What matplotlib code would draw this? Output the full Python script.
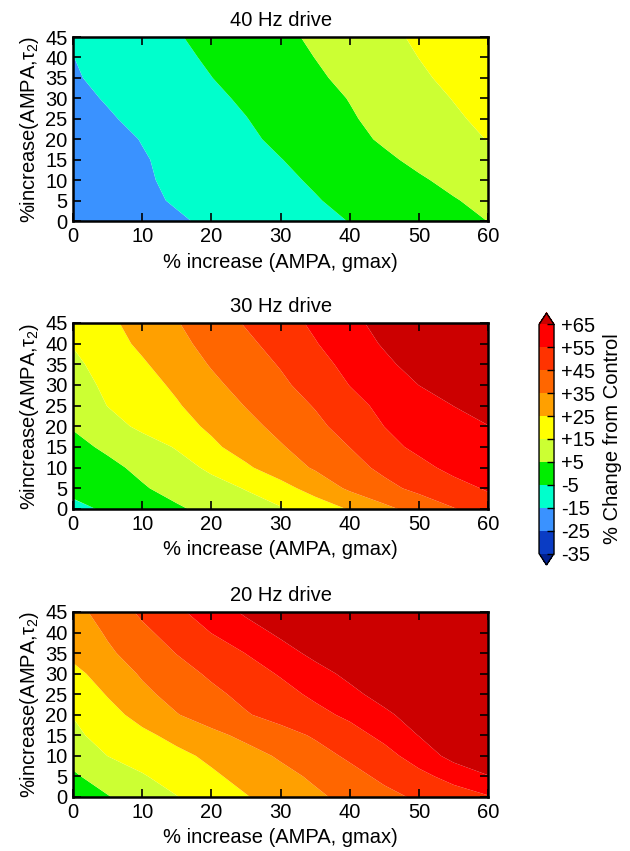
import matplotlib
matplotlib.use("Agg")
import matplotlib.pyplot as plt
import numpy as np
from matplotlib.colors import ListedColormap, BoundaryNorm

plt.rcParams['font.family'] = ['Liberation Sans', 'DejaVu Sans']
plt.rcParams['mathtext.default'] = 'regular'

# grid: % increase of AMPA gmax (x) and AMPA tau2 (y)
gmax_pct = [0, 5, 10, 15, 20, 25, 30, 35, 40, 45, 50, 55, 60]
tau_pct = [0, 5, 10, 15, 20, 25, 30, 35, 40, 45]

# % change from control, rows = tau_pct, cols = gmax_pct
change_40hz = [
    [-22.6, -20.4, -18.2, -15.9, -13.7, -11.5, -9.2, -7.0, -4.8, -2.3, 0.2, 2.6, 5.1],
    [-21.0, -18.8, -16.5, -14.3, -12.1, -9.9, -7.7, -5.5, -3.0, -0.5, 2.0, 4.5, 7.1],
    [-20.6, -18.3, -15.9, -13.6, -11.2, -8.9, -6.5, -4.1, -1.3, 1.4, 4.1, 6.9, 9.6],
    [-20.7, -18.2, -15.6, -13.0, -10.4, -7.8, -5.2, -2.3, 0.7, 3.7, 6.7, 9.6, 12.6],
    [-20.2, -17.4, -14.7, -11.9, -9.1, -6.4, -3.4, -0.3, 2.9, 6.0, 9.1, 12.2, 15.3],
    [-18.5, -15.8, -13.1, -10.5, -7.8, -5.2, -2.0, 1.1, 4.2, 7.4, 10.6, 13.8, 17.0],
    [-17.0, -14.4, -11.8, -9.2, -6.6, -3.8, -0.8, 2.3, 5.3, 8.7, 12.0, 15.3, 18.7],
    [-15.8, -13.0, -10.4, -7.7, -5.1, -2.2, 0.8, 3.8, 6.9, 10.2, 13.7, 17.0, 20.4],
    [-15.1, -12.2, -9.5, -6.7, -3.9, -1.0, 2.1, 5.1, 8.4, 11.7, 15.1, 18.4, 21.7],
    [-14.4, -11.5, -8.5, -5.6, -2.6, 0.3, 3.2, 6.3, 9.7, 13.0, 16.3, 19.7, 23.0],
]
change_30hz = [
    [-6.5, -4.2, -0.2, 3.9, 7.4, 10.8, 14.1, 19.5, 25.7, 32.6, 38.8, 44.5, 50.3],
    [-3.5, 0.3, 4.2, 7.9, 11.6, 15.5, 21.6, 28.8, 36.6, 42.4, 47.4, 51.7, 56.0],
    [-0.4, 3.0, 6.9, 11.5, 16.7, 23.6, 30.0, 36.1, 41.7, 47.2, 52.4, 57.5, 62.5],
    [2.7, 6.4, 10.9, 15.7, 23.2, 29.0, 34.2, 39.6, 45.1, 52.1, 57.1, 60.6, 64.1],
    [5.6, 11.5, 16.9, 21.6, 26.6, 32.2, 37.6, 42.8, 48.8, 55.1, 58.4, 61.7, 64.8],
    [8.1, 15.2, 19.7, 24.2, 29.7, 35.4, 40.5, 45.6, 52.1, 57.2, 61.1, 65.1, 69.0],
    [10.5, 17.1, 21.6, 26.6, 32.9, 38.3, 43.2, 49.0, 55.2, 60.1, 65.1, 70.1, 75.1],
    [13.0, 18.8, 23.9, 29.8, 35.7, 40.6, 45.7, 51.8, 57.6, 63.1, 68.6, 74.1, 79.6],
    [15.5, 21.2, 26.8, 32.6, 37.9, 43.0, 48.6, 54.5, 60.3, 66.0, 71.8, 77.5, 83.3],
    [17.3, 23.0, 28.8, 34.5, 40.2, 45.8, 51.2, 56.7, 62.5, 68.2, 73.9, 79.7, 85.5],
]
change_20hz = [
    [-0.6, 4.5, 9.6, 14.7, 19.6, 24.5, 28.9, 33.3, 37.7, 42.3, 46.5, 50.4, 54.2],
    [3.8, 9.0, 14.2, 18.9, 23.5, 27.9, 32.1, 36.6, 41.8, 47.1, 52.4, 58.2, 64.6],
    [7.8, 15.1, 18.8, 22.7, 26.9, 31.5, 36.2, 41.4, 46.6, 51.8, 59.2, 68.3, 72.0],
    [13.3, 18.1, 22.9, 27.7, 32.6, 37.2, 41.5, 46.1, 51.3, 57.4, 65.3, 70.0, 75.0],
    [15.3, 21.8, 28.2, 34.6, 39.5, 44.3, 48.4, 52.3, 56.9, 63.1, 69.4, 75.6, 81.9],
    [18.5, 25.6, 32.8, 38.3, 42.9, 47.5, 51.9, 56.8, 62.6, 68.5, 74.4, 80.3, 86.2],
    [22.3, 29.4, 36.1, 41.4, 46.5, 51.1, 55.8, 61.6, 67.3, 73.0, 78.8, 84.5, 90.3],
    [27.5, 33.5, 39.4, 45.3, 50.2, 55.2, 61.3, 67.4, 73.5, 79.6, 85.7, 91.8, 97.9],
    [29.2, 36.1, 42.9, 49.1, 55.2, 60.9, 66.8, 72.7, 78.6, 84.5, 90.4, 96.3, 102.0],
    [31.6, 39.3, 46.7, 53.2, 59.8, 66.5, 73.0, 79.7, 86.3, 92.9, 99.5, 106.1, 112.7],
]

titles = ["40 Hz drive", "30 Hz drive", "20 Hz drive"]
levels = [-35, -25, -15, -5, 5, 15, 25, 35, 45, 55, 65]
level_labels = ["-35", "-25", "-15", "-5", "+5", "+15", "+25", "+35", "+45", "+55", "+65"]

band_colors = ['#0a3cc4', '#3a92ff', '#00ffcc', '#00ee00', '#ccff33', '#ffff00',
               '#ffa000', '#ff6600', '#ff3300', '#ff0000']
cmap = ListedColormap(band_colors)
cmap.set_under('#002090')
cmap.set_over('#cc0000')
norm = BoundaryNorm(levels, cmap.N)

fig = plt.figure(figsize=(6.3, 8.51), dpi=100)
boxes = [[0.116, 0.7403, 0.659, 0.2162],
         [0.116, 0.4019, 0.659, 0.2186],
         [0.116, 0.0635, 0.659, 0.2174]]

X, Y = np.meshgrid(gmax_pct, tau_pct)
fs = 14.5
for box, data, title in zip(boxes, [change_40hz, change_30hz, change_20hz], titles):
    ax = fig.add_axes(box)
    cs = ax.contourf(X, Y, np.array(data), levels=levels, cmap=cmap, norm=norm,
                     extend='both', antialiased=True)
    ax.set_xlim(0, 60)
    ax.set_ylim(0, 45)
    ax.set_xticks([0, 10, 20, 30, 40, 50, 60])
    ax.set_yticks([0, 5, 10, 15, 20, 25, 30, 35, 40, 45])
    ax.tick_params(direction='in', top=True, right=True, length=6, width=1.2,
                   labelsize=fs, pad=4)
    for sp in ax.spines.values():
        sp.set_linewidth(1.8)
    ax.set_title(title, fontsize=fs, pad=8)
    ax.set_xlabel("% increase (AMPA, gmax)", fontsize=fs, labelpad=5)
    ax.set_ylabel(r"%increase(AMPA,$\tau_2$)", fontsize=fs, labelpad=3)

cax = fig.add_axes([0.8556, 0.3361, 0.0238, 0.2961])
cb = fig.colorbar(cs, cax=cax, ticks=levels, extend='both')
cb.ax.set_yticklabels(level_labels)
cb.ax.tick_params(direction='in', length=5, width=1, labelsize=fs, pad=5)
cb.outline.set_linewidth(1.0)
cb.set_label("% Change from Control", fontsize=fs, labelpad=6)

fig.savefig("out.png", dpi=100)
